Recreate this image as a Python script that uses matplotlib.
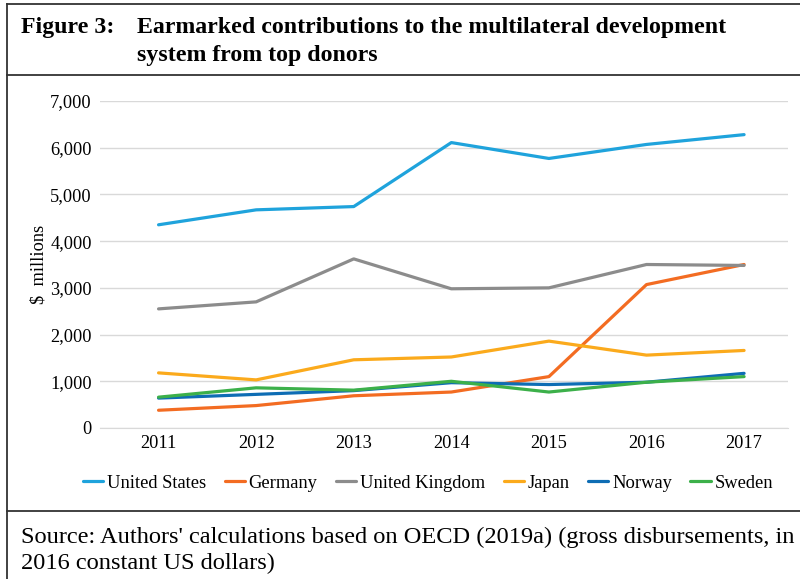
import matplotlib.pyplot as plt
from matplotlib.lines import Line2D
from matplotlib.ticker import FuncFormatter

plt.rcParams['font.family'] = ['Liberation Serif', 'DejaVu Serif']

years = ['2011', '2012', '2013', '2014', '2015', '2016', '2017']
united_states = [4350, 4670, 4740, 6110, 5770, 6070, 6280]
germany = [380, 480, 690, 770, 1100, 3070, 3500]
united_kingdom = [2550, 2700, 3620, 2980, 3000, 3500, 3480]
japan = [1180, 1030, 1460, 1520, 1860, 1560, 1660]
norway = [640, 720, 800, 970, 930, 980, 1170]
sweden = [660, 860, 810, 1000, 770, 980, 1100]

series = [
    ('United States', united_states, '#1fa3dc'),
    ('Germany', germany, '#f36c22'),
    ('United Kingdom', united_kingdom, '#8c8c8c'),
    ('Japan', japan, '#fbaa1c'),
    ('Norway', norway, '#0e6db4'),
    ('Sweden', sweden, '#3cb04a'),
]

fig = plt.figure(figsize=(8, 5.79), dpi=100)
W, H = 800, 579

def fx(px):
    return px / W

def fy(py):
    return 1 - py / H

# frame lines
border = dict(color='#333333', lw=1.3, transform=fig.transFigure)
fig.add_artist(Line2D([fx(7), fx(7)], [fy(4), fy(579)], **border))
for yy in (4, 75, 511):
    fig.add_artist(Line2D([fx(7), 1], [fy(yy), fy(yy)], **border))

fig.text(fx(21), fy(28), 'Figure 3:', fontsize=17.2, fontweight='bold', va='center')
fig.text(fx(137), fy(28), 'Earmarked contributions to the multilateral development',
         fontsize=17.2, fontweight='bold', va='center')
fig.text(fx(137), fy(56), 'system from top donors', fontsize=17.2, fontweight='bold', va='center')

fig.text(fx(21), fy(537), "Source: Authors' calculations based on OECD (2019a) (gross disbursements, in",
         fontsize=17.6, va='center')
fig.text(fx(21), fy(563), '2016 constant US dollars)', fontsize=17.6, va='center')

ax = fig.add_axes([fx(100), fy(428), fx(788 - 100), (428 - 101) / H])
x = list(range(len(years)))
for name, vals, col in series:
    ax.plot(x, vals, color=col, lw=2.3, label=name, solid_capstyle='round')

ax.set_xlim(-0.6, 6.45)
ax.set_ylim(0, 7000)
ax.set_yticks(range(0, 7001, 1000))
ax.yaxis.set_major_formatter(FuncFormatter(lambda v, p: f'{int(v):,}'))
ax.set_xticks(x)
ax.set_xticklabels(years)
ax.grid(axis='y', color='#d9d9d9', lw=1)
ax.set_axisbelow(True)
for s in ['top', 'right', 'left']:
    ax.spines[s].set_visible(False)
ax.spines['bottom'].set_color('#d9d9d9')
ax.tick_params(length=0, labelsize=13.2, pad=6)
ax.tick_params(axis='x', pad=5)
ax.set_ylabel('$  millions', fontsize=13.2)
ax.yaxis.set_label_coords(-0.077, 0.5)

fig.legend(loc='center', bbox_to_anchor=(fx(428), fy(483)), ncol=6, frameon=False,
           fontsize=13.3, handlelength=1.1, handletextpad=0.2, columnspacing=1.0)

fig.savefig('out.png', dpi=100)
